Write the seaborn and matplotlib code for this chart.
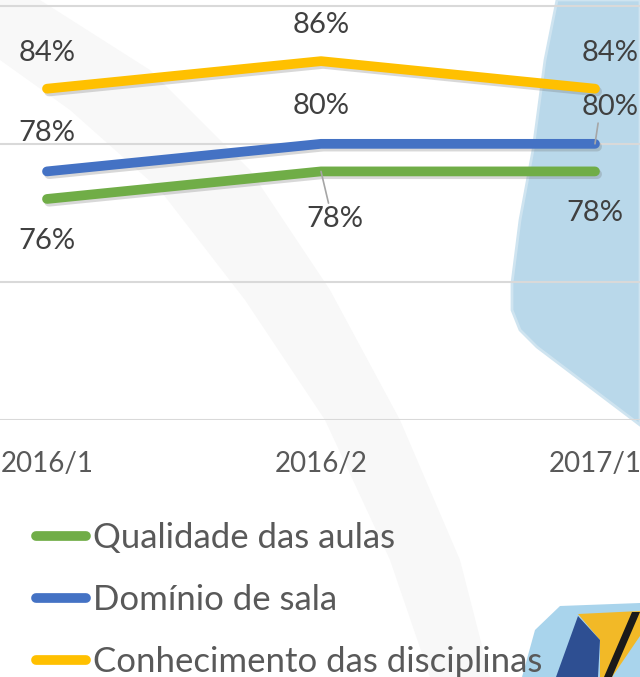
import matplotlib
matplotlib.use("Agg")
import matplotlib.pyplot as plt
import matplotlib.patheffects as pe
from matplotlib.patches import Polygon
import seaborn as sns
import pandas as pd

periods = ["2016/1", "2016/2", "2017/1"]
series_names = ["Qualidade das aulas", "Domínio de sala", "Conhecimento das disciplinas"]
qualidade = [76, 78, 78]
dominio = [78, 80, 80]
conhecimento = [84, 86, 84]
colors = ["#70AD47", "#4472C4", "#FFC000"]

sns.set_theme(style="white")
plt.rcParams["font.family"] = ["Lato", "DejaVu Sans"]

rows = []
for name, vals in zip(series_names, [qualidade, dominio, conhecimento]):
    for i, (p, v) in enumerate(zip(periods, vals)):
        rows.append({"idx": i, "period": p, "value": v, "serie": name})
df = pd.DataFrame(rows)

W, H = 640, 677
fig = plt.figure(figsize=(W / 100, H / 100), dpi=100)
fig.patch.set_facecolor("white")

# background decorations in a separate full-figure axes drawn first
bg = fig.add_axes([0, 0, 1, 1], zorder=-5)
bg.set_xlim(0, W)
bg.set_ylim(H, 0)
bg.axis("off")

def poly(pts, **kw):
    bg.add_patch(Polygon(pts, closed=True, **kw))

poly([(0, 0), (40, 0), (150, 70), (250, 170), (330, 290), (400, 420), (460, 560), (490, 677),
      (430, 677), (390, 560), (325, 420), (245, 300), (160, 190), (70, 110), (0, 60)],
     facecolor="#F8F8F8", edgecolor="none")
poly([(557, 0), (545, 60), (533, 150), (520, 220), (512, 283), (512, 310), (520, 330),
      (537, 347), (640, 425), (640, 0)], facecolor="#B9D8EA", edgecolor="#CFE4F0", linewidth=2)
poly([(522, 677), (535, 630), (560, 606), (640, 603), (640, 677)], facecolor="#A9D4EC", edgecolor="none")
poly([(578, 614), (640, 611), (640, 636), (612, 677), (600, 677), (600, 640)], facecolor="#F2B927",
     edgecolor="none")
poly([(578, 616), (600, 640), (598, 677), (556, 677)], facecolor="#2E4F92", edgecolor="none")
poly([(632, 612), (640, 612), (612, 677), (604, 677)], facecolor="#1A1A1A", edgecolor="none")

ax_bottom_px = 419.5
ax = fig.add_axes([0, (H - ax_bottom_px) / H, 1, ax_bottom_px / H], zorder=1)
ax.set_facecolor("none")

sns.lineplot(data=df, x="idx", y="value", hue="serie", hue_order=series_names, palette=colors,
             linewidth=7, ax=ax, legend=False, zorder=3)
for line in ax.lines:
    line.set_solid_capstyle("round")
    line.set_solid_joinstyle("round")
    line.set_path_effects([pe.SimpleLineShadow(offset=(1.5, -2), shadow_color="#666666", alpha=0.25),
                           pe.Normal()])

px_per_cat = 274.0
ax.set_xlim(-47 / px_per_cat, 2 + 45 / px_per_cat)
ax.set_ylim(60, 90 + 6 / 13.78)
ax.set_yticks([60, 70, 80, 90])
ax.yaxis.grid(True, color="#D9D9D9", linewidth=1.5)
ax.xaxis.grid(False)
ax.tick_params(axis="y", left=False, labelleft=False)
ax.set_xticks(range(len(periods)))
ax.set_xticklabels(periods, fontsize=20, color="#595959")
ax.tick_params(axis="x", bottom=False, pad=17)
for s in ax.spines.values():
    s.set_visible(False)
ax.set_xlabel("")
ax.set_ylabel("")

lab_kw = dict(textcoords="offset pixels", ha="center", va="center", fontsize=21, color="#404040",
              annotation_clip=False, zorder=5)
lead = dict(arrowstyle="-", color="#A6A6A6", lw=1.2, shrinkA=0, shrinkB=0)

# Conhecimento (above)
for i, v in enumerate(conhecimento):
    dx = 15 if i == 2 else 0
    ax.annotate(f"{v}%", (i, v), xytext=(dx, 36), **lab_kw)
# Domínio (above)
for i, v in enumerate(dominio):
    if i == 2:
        ax.annotate(f"{v}%", (i, v), xytext=(15, 37), arrowprops=dict(lead, relpos=(0.3, 0.0)), **lab_kw)
    else:
        ax.annotate(f"{v}%", (i, v), xytext=(0, 38), **lab_kw)
# Qualidade (below)
for i, v in enumerate(qualidade):
    if i == 1:
        ax.annotate(f"{v}%", (i, v), xytext=(14, -48), arrowprops=dict(lead, relpos=(0.4, 1.0)), **lab_kw)
    else:
        ax.annotate(f"{v}%", (i, v), xytext=(0, -42), **lab_kw)

handles = [plt.Line2D([], [], color=c, lw=7, solid_capstyle="round") for c in colors]
leg = fig.legend(handles, series_names, loc="upper left", bbox_to_anchor=(36 / W, 1 - 522 / H),
                 frameon=False, fontsize=25, labelcolor="#595959", handlelength=1.45,
                 handletextpad=0.2, labelspacing=0.87, borderaxespad=0, borderpad=0)

fig.savefig("out.png", dpi=100, facecolor="white")
